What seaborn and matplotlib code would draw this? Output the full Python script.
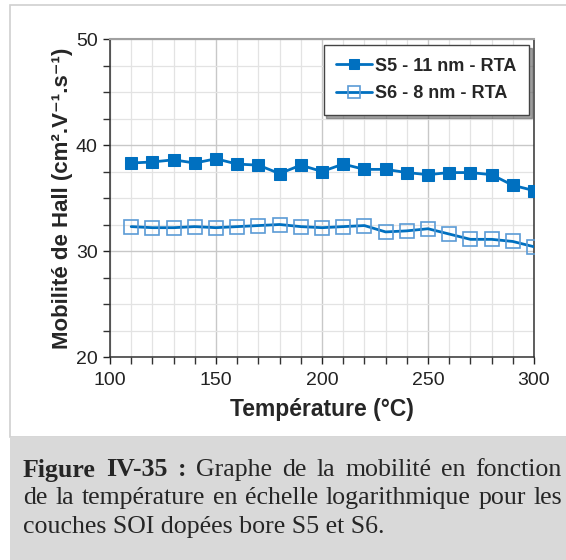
import numpy as np
import pandas as pd
import matplotlib.pyplot as plt
import seaborn as sns
from matplotlib.patches import Rectangle
from matplotlib.ticker import MultipleLocator

# Données
temperature = [110, 120, 130, 140, 150, 160, 170, 180, 190, 200,
               210, 220, 230, 240, 250, 260, 270, 280, 290, 300]
mob_s5 = [38.3, 38.4, 38.6, 38.3, 38.7, 38.2, 38.1, 37.3, 38.1, 37.5,
          38.2, 37.7, 37.7, 37.4, 37.2, 37.4, 37.4, 37.2, 36.2, 35.7]
mob_s6 = [32.3, 32.2, 32.2, 32.3, 32.2, 32.3, 32.4, 32.5, 32.3, 32.2,
          32.3, 32.4, 31.8, 31.9, 32.1, 31.6, 31.1, 31.1, 30.9, 30.4]
labels = ["S5 - 11 nm - RTA", "S6 - 8 nm - RTA"]

caption_bold = "Figure IV-35 :"
caption_lines = ["Graphe de la mobilité en fonction",
                 "de la température en échelle logarithmique pour les",
                 "couches SOI dopées bore S5 et S6."]

sns.set_theme(style="white")
plt.rcParams['font.family'] = ['Liberation Sans', 'DejaVu Sans']

W, H = 566, 560
fig = plt.figure(figsize=(W / 100, H / 100), dpi=100)

# cadre du graphique et zone de légende grise
fig.patches.append(Rectangle((10 / W, 1 - 437 / H), (W - 9) / W, 432 / H,
                             transform=fig.transFigure, facecolor='white',
                             edgecolor='#d0d0d0', lw=1.2, zorder=-10))
fig.patches.append(Rectangle((10 / W, 0), 1, 123 / H, transform=fig.transFigure,
                             facecolor='#d9d9d9', edgecolor='none', zorder=-10))

ax = fig.add_axes([110 / W, 1 - 357 / H, 424 / W, 318 / H])
ax.set_facecolor('white')

blue = '#0070c0'
sns.lineplot(x=temperature, y=mob_s5, ax=ax, color=blue, lw=2, marker='s',
             markersize=9, markerfacecolor=blue, markeredgecolor=blue,
             label=labels[0], zorder=3)
sns.lineplot(x=temperature, y=mob_s6, ax=ax, color=blue, lw=2, marker='s',
             markersize=10, markerfacecolor='none', markeredgecolor='#5b9bd5',
             markeredgewidth=1.2, label=labels[1], zorder=3)

ax.set_xlim(100, 300)
ax.set_ylim(20, 50)
ax.xaxis.set_major_locator(MultipleLocator(50))
ax.xaxis.set_minor_locator(MultipleLocator(10))
ax.yaxis.set_major_locator(MultipleLocator(10))
ax.yaxis.set_minor_locator(MultipleLocator(2.5))
ax.grid(which='major', color='#c8c8c8', lw=1)
ax.grid(which='minor', color='#e3e3e3', lw=0.9)
ax.set_axisbelow(True)
ax.tick_params(which='both', direction='out', length=5, width=1, color='#333333',
               bottom=True, left=True)
ax.tick_params(which='major', labelsize=14, colors='#222222', pad=4)
ax.tick_params(axis='x', which='major', pad=6)
for side in ['left', 'bottom', 'right']:
    ax.spines[side].set_color('#333333')
    ax.spines[side].set_linewidth(1.1)
ax.spines['top'].set_color('#a0a0a0')
ax.spines['top'].set_linewidth(1.5)

ax.set_xlabel("Température (°C)", fontsize=16.5, fontweight='bold', labelpad=6)
ax.set_ylabel("Mobilité de Hall (cm².V⁻¹.s⁻¹)", fontsize=16, fontweight='bold',
              labelpad=2)

leg = ax.legend(loc='upper right', bbox_to_anchor=(529 / W, 1 - 45 / H),
                bbox_transform=fig.transFigure, frameon=True, shadow=True,
                fancybox=False, prop={'weight': 'bold', 'size': 13},
                handlelength=2.0, handletextpad=0.15, borderpad=0.7,
                labelspacing=0.6, borderaxespad=0, markerscale=0.8)
leg.get_frame().set_edgecolor('#444444')
leg.get_frame().set_linewidth(1)

# légende de la figure (texte en Times, justifié)
serif = ['Liberation Serif', 'DejaVu Serif']
fs = 18.6
x_left, x_right = 23, 562
renderer = fig.canvas.get_renderer()


def justify(words, y, x_start, weights=None):
    if weights is None:
        weights = ['normal'] * len(words)
    texts = [fig.text(0, 0, w, family=serif, fontsize=fs, fontweight=wt, va='center')
             for w, wt in zip(words, weights)]
    widths = [t.get_window_extent(renderer).width for t in texts]
    gap = (x_right - x_start - sum(widths)) / (len(words) - 1)
    x = x_start
    for t, wd in zip(texts, widths):
        t.set_position((x / W, 1 - y / H))
        x += wd + gap


line1 = caption_bold.split() + caption_lines[0].split()
justify(line1, 470, x_left, ['bold', 'bold', 'bold'] + ['normal'] * (len(line1) - 3))
justify(caption_lines[1].split(), 498, x_left)
fig.text(x_left / W, 1 - 527 / H, caption_lines[2], family=serif, fontsize=fs,
         va='center')

fig.savefig("out.png", dpi=100)
